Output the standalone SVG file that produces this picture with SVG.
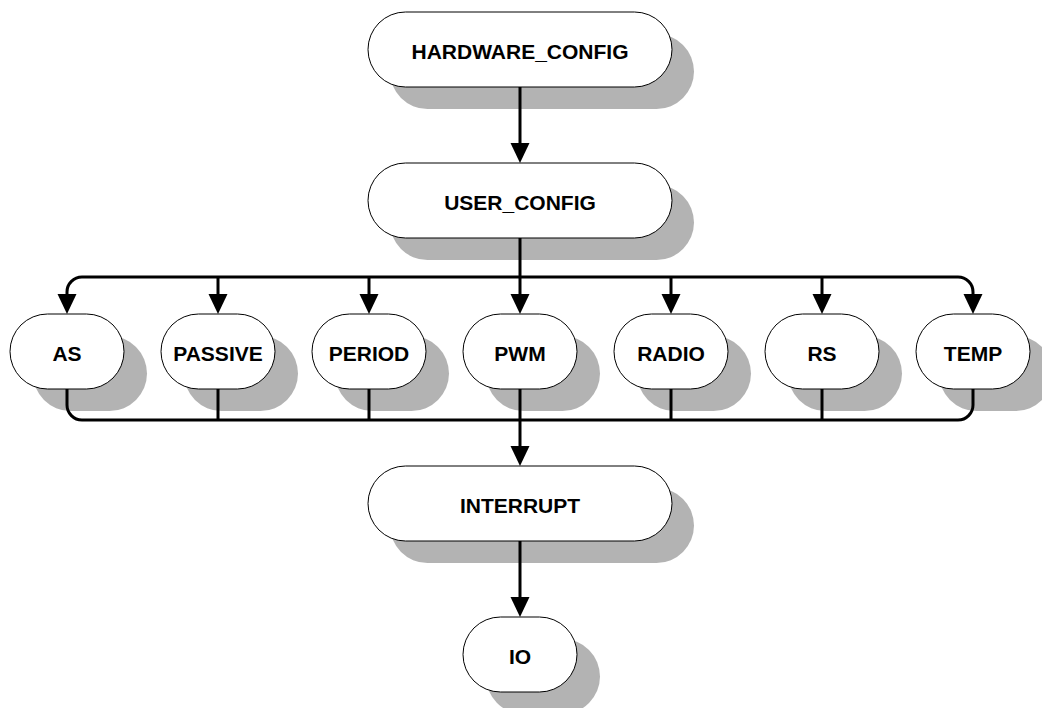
<svg xmlns="http://www.w3.org/2000/svg" width="1042" height="708" viewBox="0 0 1042 708">
<style>
.shadow{fill:#b3b3b3;stroke:none}
.node{fill:#ffffff;stroke:#000000;stroke-width:1}
.lbl{font-family:"Liberation Sans",Arial,sans-serif;font-weight:bold;font-size:21px;fill:#000000;text-anchor:middle}
.edge{fill:none;stroke:#000000;stroke-width:3}
</style>
<defs>
<marker id="arr" markerUnits="userSpaceOnUse" markerWidth="20" markerHeight="20" refX="0" refY="9.5" orient="auto" overflow="visible">
<path d="M0,0 L20,9.5 L0,19 Z" fill="#000000"/>
</marker>
</defs>
<rect width="1042" height="708" fill="#ffffff"/>
<g id="HARDWARE_CONFIG">
<rect class="shadow" x="390" y="34" width="304" height="75" rx="37.5"/>
<rect class="node" x="368" y="12" width="304" height="75" rx="37.5"/>
<text class="lbl" x="520" y="58.5">HARDWARE_CONFIG</text>
</g>
<g id="USER_CONFIG">
<rect class="shadow" x="390" y="185" width="304" height="75" rx="37.5"/>
<rect class="node" x="368" y="163" width="304" height="75" rx="37.5"/>
<text class="lbl" x="520" y="209.5">USER_CONFIG</text>
</g>
<g id="AS">
<rect class="shadow" x="33" y="336" width="114" height="75" rx="37.5"/>
<rect class="node" x="10" y="314" width="114" height="75" rx="37.5"/>
<text class="lbl" x="67" y="360.5">AS</text>
</g>
<g id="PASSIVE">
<rect class="shadow" x="184" y="336" width="114" height="75" rx="37.5"/>
<rect class="node" x="161" y="314" width="114" height="75" rx="37.5"/>
<text class="lbl" x="218" y="360.5">PASSIVE</text>
</g>
<g id="PERIOD">
<rect class="shadow" x="335" y="336" width="114" height="75" rx="37.5"/>
<rect class="node" x="312" y="314" width="114" height="75" rx="37.5"/>
<text class="lbl" x="369" y="360.5">PERIOD</text>
</g>
<g id="PWM">
<rect class="shadow" x="486" y="336" width="114" height="75" rx="37.5"/>
<rect class="node" x="463" y="314" width="114" height="75" rx="37.5"/>
<text class="lbl" x="520" y="360.5">PWM</text>
</g>
<g id="RADIO">
<rect class="shadow" x="637" y="336" width="114" height="75" rx="37.5"/>
<rect class="node" x="614" y="314" width="114" height="75" rx="37.5"/>
<text class="lbl" x="671" y="360.5">RADIO</text>
</g>
<g id="RS">
<rect class="shadow" x="788" y="336" width="114" height="75" rx="37.5"/>
<rect class="node" x="765" y="314" width="114" height="75" rx="37.5"/>
<text class="lbl" x="822" y="360.5">RS</text>
</g>
<g id="TEMP">
<rect class="shadow" x="939" y="336" width="114" height="75" rx="37.5"/>
<rect class="node" x="916" y="314" width="114" height="75" rx="37.5"/>
<text class="lbl" x="973" y="360.5">TEMP</text>
</g>
<g id="INTERRUPT">
<rect class="shadow" x="390" y="488" width="304" height="75" rx="37.5"/>
<rect class="node" x="368" y="466" width="304" height="75" rx="37.5"/>
<text class="lbl" x="520" y="512.5">INTERRUPT</text>
</g>
<g id="IO">
<rect class="shadow" x="486" y="639" width="114" height="75" rx="37.5"/>
<rect class="node" x="463" y="617" width="114" height="75" rx="37.5"/>
<text class="lbl" x="520" y="663.5">IO</text>
</g>
<g id="connectors">
<path class="edge" d="M520,87 V143" marker-end="url(#arr)"/>
<path class="edge" d="M520,238 V294" marker-end="url(#arr)"/>
<path class="edge" d="M520,277 H82 A15,15 0 0 0 67,292 V294" marker-end="url(#arr)"/>
<path class="edge" d="M520,277 H958 A15,15 0 0 1 973,292 V294" marker-end="url(#arr)"/>
<path class="edge" d="M218,277 V294" marker-end="url(#arr)"/>
<path class="edge" d="M369,277 V294" marker-end="url(#arr)"/>
<path class="edge" d="M671,277 V294" marker-end="url(#arr)"/>
<path class="edge" d="M822,277 V294" marker-end="url(#arr)"/>
<path class="edge" d="M67,389 V405 A15,15 0 0 0 82,420 H958 A15,15 0 0 0 973,405 V389"/>
<path class="edge" d="M218,389 V420"/>
<path class="edge" d="M369,389 V420"/>
<path class="edge" d="M671,389 V420"/>
<path class="edge" d="M822,389 V420"/>
<path class="edge" d="M520,389 V446" marker-end="url(#arr)"/>
<path class="edge" d="M520,541 V597" marker-end="url(#arr)"/>
</g>
</svg>
